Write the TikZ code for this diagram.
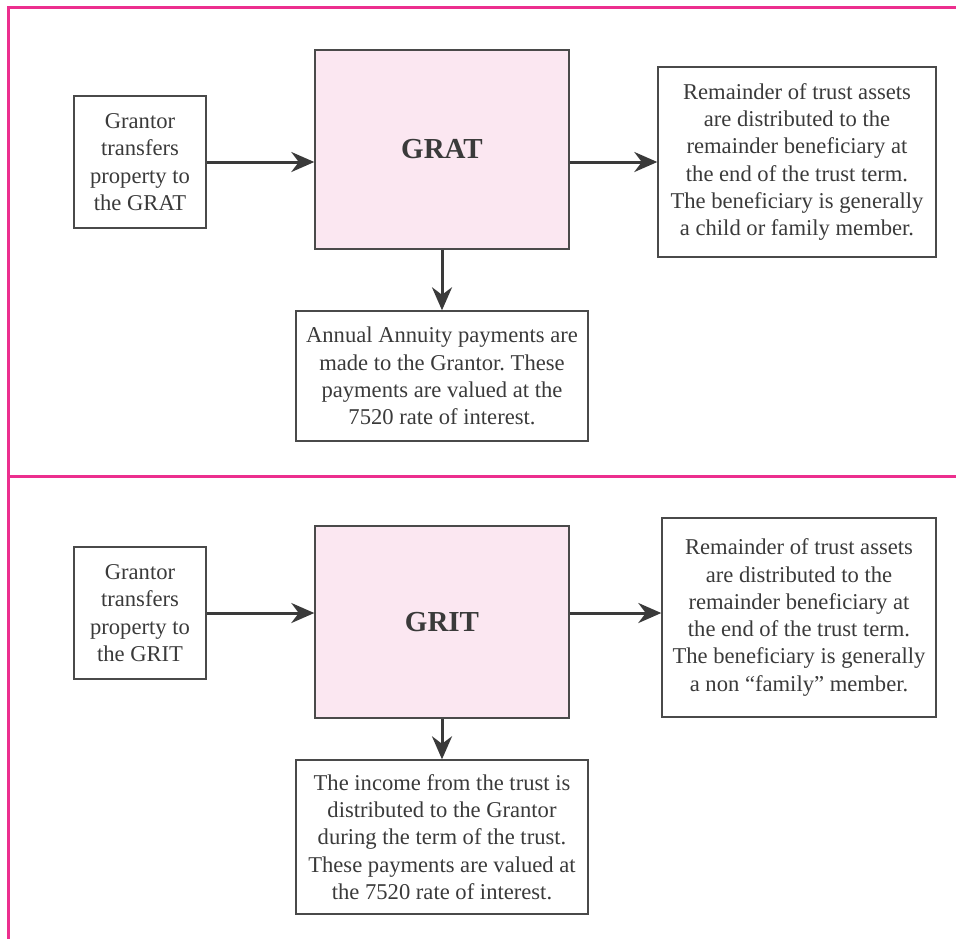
\documentclass[tikz,border=0pt]{standalone}
\usepackage{fontspec}
\setmainfont{Liberation Serif}
\usepackage{xcolor}
\usetikzlibrary{positioning, arrows.meta}
\definecolor{framepink}{HTML}{EC2F8E}
\definecolor{boxpink}{HTML}{FBE7F1}
\definecolor{inkgray}{HTML}{3A3A3A}
\definecolor{edgegray}{HTML}{4A4A4A}
\frenchspacing

\tikzset{
    textbox/.style = {draw=edgegray, line width=0.7pt, align=center, inner sep=0pt,
        text=inkgray, font=\fontsize{11.3}{13.65}\selectfont},
    trustbox/.style = {draw=edgegray, fill=boxpink, line width=0.7pt, inner sep=0pt,
        text=inkgray, font=\fontsize{14.5}{17}\selectfont\bfseries},
    flow/.style = {-{Stealth[length=11.5pt, width=10pt]}, line width=1.5pt, draw=inkgray},
    panel/.style = {draw=framepink, line width=1.5pt}
}

\begin{document}
\begin{tikzpicture}[x=0.5pt, y=-0.5pt]
    \useasboundingbox (0,0) rectangle (956,939);

    % frame of the two panels
    \draw[panel] (956,7) -- (8,7) -- (8,939);
    \draw[panel] (8,476) -- (956,476);

    % GRAT
    \node[textbox, minimum width=66pt, minimum height=66pt] (grantA) at (140,162)
        {Grantor\\transfers\\property to\\the GRAT};
    \node[trustbox, minimum width=127pt, minimum height=99.5pt] (grat) at (442,149.5) {GRAT};
    \node[textbox, minimum width=139pt, minimum height=95pt] (remA) at (797,162)
        {Remainder of trust assets\\are distributed to the\\remainder beneficiary at\\the end of the trust term.\\The beneficiary is generally\\a child or family member.};
    \node[textbox, minimum width=146pt, minimum height=65pt] (annuity) at (442,376)
        {Annual Annuity payments are\\made to the Grantor. These\\payments are valued at the\\7520 rate of interest.};

    \draw[flow] (grantA.east) -- (grantA.east -| grat.west);
    \draw[flow] (grat.east |- remA.west) -- (remA.west);
    \draw[flow] (grat.south) -- (annuity.north);

    % GRIT
    \node[textbox, minimum width=66pt, minimum height=66pt] (grantB) at (140,613)
        {Grantor\\transfers\\property to\\the GRIT};
    \node[trustbox, minimum width=127pt, minimum height=96pt] (grit) at (442,622) {GRIT};
    \node[textbox, minimum width=137pt, minimum height=99.5pt] (remB) at (799,617.5)
        {Remainder of trust assets\\are distributed to the\\remainder beneficiary at\\the end of the trust term.\\The beneficiary is generally\\a non ``family'' member.};
    \node[textbox, minimum width=146pt, minimum height=77pt] (income) at (442,837)
        {The income from the trust is\\distributed to the Grantor\\during the term of the trust.\\These payments are valued at\\the 7520 rate of interest.};

    \draw[flow] (grantB.east) -- (grantB.east -| grit.west);
    \draw[flow] (grit.east |- grantB.east) -- (grantB.east -| remB.west);
    \draw[flow] (grit.south) -- (income.north);
\end{tikzpicture}
\end{document}
